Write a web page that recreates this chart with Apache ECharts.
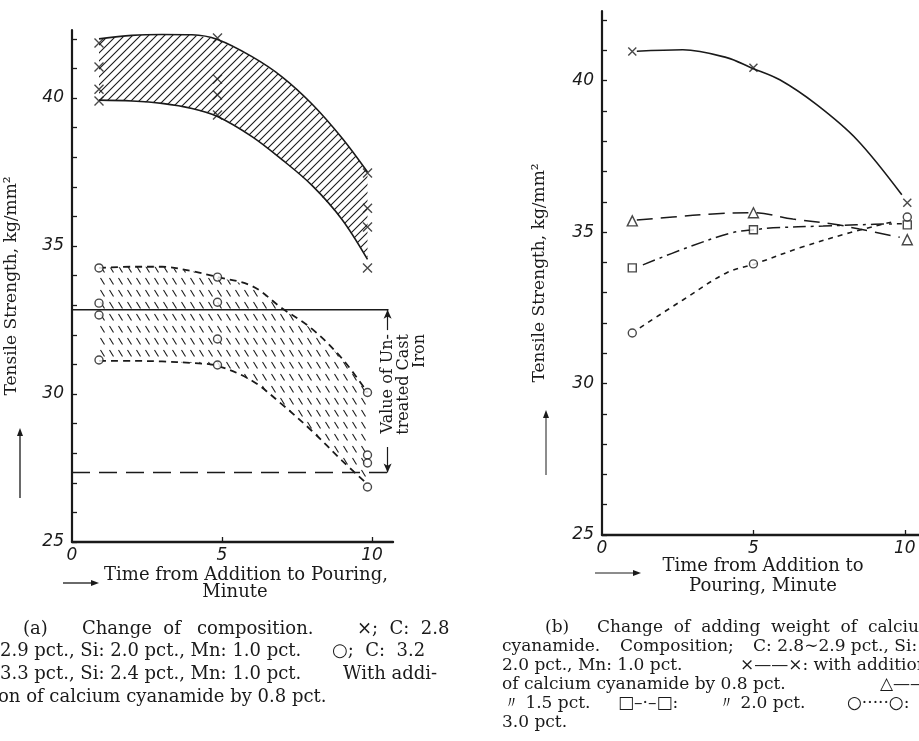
<!DOCTYPE html>
<html>
<head>
<meta charset="utf-8"/>
<title>Tensile Strength - Time from Addition to Pouring</title>
<script src="https://cdn.jsdelivr.net/npm/echarts/dist/echarts.min.js"></script>
<style>
html, body { margin: 0; padding: 0; background: #fff; }
#chart { width: 919px; height: 741px; }
</style>
</head>
<body>
<div id="chart"></div>
<script>
// ===== (a) Change of composition =====
var bandX    = [0.9, 2, 3, 4, 4.85, 6, 7, 8, 9, 9.85];
var hiTop    = [42.0, 42.12, 42.15, 42.14, 41.98, 41.4, 40.72, 39.8, 38.65, 37.5];
var hiBottom = [39.93, 39.9, 39.82, 39.65, 39.38, 38.7, 37.92, 37.05, 35.9, 34.55];
var loTop    = [34.26, 34.3, 34.3, 34.15, 33.95, 33.65, 32.9, 32.2, 31.2, 30.05];
var loBottom = [31.12, 31.12, 31.1, 31.05, 30.95, 30.45, 29.65, 28.75, 27.75, 26.95];
var timeA    = [0.9, 4.85, 9.85];
var crossA   = [[41.86, 41.05, 40.30, 39.90], [42.03, 40.64, 40.10, 39.43], [37.47, 36.28, 35.64, 34.26]];
var circleA  = [[34.26, 33.07, 32.67, 31.15], [33.95, 33.10, 31.86, 30.98], [30.05, 27.94, 27.67, 26.86]];
var refLineX = [0, 10.55];
var untreatedCross  = 32.85;   // 実線
var untreatedCircle = 27.35;   // 破線
var arrowX    = 10.52;
var arrowUp   = [32.16, 32.85];
var arrowDown = [28.21, 27.35];

// ===== (b) Change of adding weight =====
var timeB   = [1, 5, 10.08];
var crossB  = [40.96, 40.43, 35.97];
var triB    = [35.37, 35.64, 34.75];
var squareB = [33.82, 35.08, 35.24];
var circleB = [31.67, 33.95, 35.50];
// 曲線の軌跡
var crossLineX  = [1.15, 2.67, 4.12, 4.92, 5.87, 7.1, 8.42, 9.9];
var crossLine   = [40.97, 41.02, 40.76, 40.43, 40.03, 39.2, 38.05, 36.23];
var triLineX    = [1.15, 2.34, 3.66, 5.02, 6.3, 7.62, 8.5, 9.83];
var triLine     = [35.4, 35.5, 35.6, 35.64, 35.43, 35.27, 35.1, 34.83];
var squareLineX = [1.35, 2.9, 4.3, 5.05, 5.65, 7.3, 8.4, 9.9];
var squareLine  = [33.92, 34.52, 34.98, 35.08, 35.14, 35.2, 35.24, 35.28];
var circleLineX = [1.25, 2.67, 4.12, 5.05, 6.53, 8.18, 9.6];
var circleLine  = [31.84, 32.76, 33.66, 33.95, 34.48, 34.98, 35.34];

// 目盛
var yTicks  = [25, 26, 27, 28, 29, 30, 31, 32, 33, 34, 35, 36, 37, 38, 39, 40, 41, 42];
var yLabels = [25, 30, 35, 40];
var xTicks  = [5, 10];
var xLabels = [0, 5, 10];

var ink = '#1a1a1a';
var serif = '"DejaVu Serif", "Liberation Serif", serif';

var pairs = function (xs, ys) {
    return xs.map(function (x, i) { return [x, ys[i]]; });
};
var spread = function (xs, groups) {
    var out = [];
    for (var i = 0; i < xs.length; i++) {
        for (var j = 0; j < groups[i].length; j++) {
            out.push([xs[i], groups[i][j]]);
        }
    }
    return out;
};
var makeHatch = function (w, h, draw) {
    var c = document.createElement('canvas');
    c.width = w; c.height = h;
    var ctx = c.getContext('2d');
    ctx.strokeStyle = ink;
    ctx.lineWidth = 1.1;
    draw(ctx);
    return {image: c, repeat: 'repeat'};
};
var hatchSolid = makeHatch(8, 8, function (ctx) {
    ctx.beginPath();
    ctx.moveTo(0, 8); ctx.lineTo(8, 0);
    ctx.moveTo(-1, 1); ctx.lineTo(1, -1);
    ctx.moveTo(7, 9); ctx.lineTo(9, 7);
    ctx.stroke();
});
var hatchDash = makeHatch(9, 12, function (ctx) {
    ctx.beginPath();
    ctx.moveTo(1.5, 2); ctx.lineTo(5.5, 8.5);
    ctx.stroke();
});

var crossSymbol = 'path://M0,0L10,10M10,0L0,10';

var yAxisCfg = function (gridIndex, gap) {
    return {
        type: 'value', gridIndex: gridIndex, min: 25, max: 42.3,
        name: 'Tensile Strength, kg/mm²', nameLocation: 'middle', nameGap: gap,
        nameTextStyle: {fontFamily: serif, fontSize: 17, color: ink},
        axisLine: {show: true, lineStyle: {color: ink, width: 2.2}},
        axisTick: {show: true, inside: true, length: 5, customValues: yTicks, lineStyle: {color: ink, width: 1.3}},
        axisLabel: {customValues: yLabels, fontFamily: 'DejaVu Sans', fontStyle: 'italic', fontSize: 17, color: ink, margin: 8},
        splitLine: {show: false}
    };
};
var xAxisCfg = function (gridIndex, max) {
    return {
        type: 'value', gridIndex: gridIndex, min: 0, max: max,
        axisLine: {show: true, onZero: false, lineStyle: {color: ink, width: 2.4}},
        axisTick: {show: true, inside: true, length: 5, customValues: xTicks, lineStyle: {color: ink, width: 1.3}},
        axisLabel: {customValues: xLabels, fontFamily: 'DejaVu Sans', fontStyle: 'italic', fontSize: 17, color: ink, margin: 5},
        splitLine: {show: false}
    };
};
var markerStyle = function (fill) {
    return {color: fill, borderColor: ink, borderWidth: 1.4};
};
var curve = function (xi, data, dash, w) {
    return {
        type: 'line', xAxisIndex: xi, yAxisIndex: xi, data: data, z: 3,
        smooth: 0.35, symbol: 'none', silent: true,
        lineStyle: {color: ink, width: w || 1.6, type: dash || 'solid'}
    };
};
// 帯の斜線塗り (上下の曲線の間)
var bandFill = function (top, bottom, fill) {
    return {
        type: 'custom', xAxisIndex: 0, yAxisIndex: 0, silent: true, z: 1,
        data: bandX.map(function (x, i) { return [x, top[i], bottom[i]]; }),
        encode: {x: 0, y: [1, 2]},
        renderItem: function (params, api) {
            if (params.dataIndexInside !== 0) return null;
            var upper = [], lower = [];
            for (var i = 0; i < bandX.length; i++) {
                upper.push(api.coord([api.value(0, i), api.value(1, i)]));
                lower.unshift(api.coord([api.value(0, i), api.value(2, i)]));
            }
            return {type: 'polygon', shape: {points: upper.concat(lower)}, style: {fill: fill, stroke: null}};
        }
    };
};

// キャプション (語の位置)
var captionA = [
    {x: 23, y: 629, text: '(a)'}, {x: 82, y: 629, text: 'Change  of'}, {x: 197, y: 629, text: 'composition.'},
    {x: 357, y: 629, text: '×;  C:  2.8'},
    {x: 0, y: 651, text: '2.9 pct., Si: 2.0 pct., Mn: 1.0 pct.'}, {x: 332, y: 651, text: '○;  C:  3.2'},
    {x: 0, y: 674, text: '3.3 pct., Si: 2.4 pct., Mn: 1.0 pct.'}, {x: 343, y: 674, text: 'With addi-'},
    {x: -2, y: 697, text: 'on of calcium cyanamide by 0.8 pct.'}
];
var captionB = [
    {x: 545, y: 628, text: '(b)'}, {x: 597, y: 628, text: 'Change  of  adding  weight  of  calcium'},
    {x: 502, y: 647, text: 'cyanamide.'}, {x: 620, y: 647, text: 'Composition;'}, {x: 753, y: 647, text: 'C: 2.8∼2.9 pct., Si:'},
    {x: 502, y: 666, text: '2.0 pct., Mn: 1.0 pct.'}, {x: 740, y: 666, text: '×——×: with addition'},
    {x: 502, y: 685, text: 'of calcium cyanamide by 0.8 pct.'}, {x: 880, y: 685, text: '△——△:'},
    {x: 503, y: 704, text: '〃 1.5 pct.'}, {x: 618, y: 704, text: '□–·–□:'}, {x: 718, y: 704, text: '〃 2.0 pct.'},
    {x: 847, y: 704, text: '○·····○:'},
    {x: 502, y: 723, text: '3.0 pct.'}
];
var axisNames = [
    {x: 246, y: 575, text: 'Time from Addition to Pouring,'},
    {x: 235, y: 592, text: 'Minute'},
    {x: 763, y: 566, text: 'Time from Addition to'},
    {x: 763, y: 586, text: 'Pouring, Minute'}
];

var graphics = [];
captionA.forEach(function (c) {
    graphics.push({type: 'text', x: c.x, y: c.y,
        style: {text: c.text, font: '18px ' + serif, fill: ink, verticalAlign: 'middle', textVerticalAlign: 'middle'}});
});
captionB.forEach(function (c) {
    graphics.push({type: 'text', x: c.x, y: c.y,
        style: {text: c.text, font: '17px ' + serif, fill: ink, verticalAlign: 'middle', textVerticalAlign: 'middle'}});
});
axisNames.forEach(function (c) {
    graphics.push({type: 'text', x: c.x, y: c.y,
        style: {text: c.text, font: '18px ' + serif, fill: ink, align: 'center', textAlign: 'center',
            verticalAlign: 'middle', textVerticalAlign: 'middle'}});
});
// 注記 (縦書き)
graphics.push({type: 'text', x: 404, y: 334, rotation: Math.PI / 2,
    style: {text: 'Value of Un-\ntreated Cast\nIron', font: '16px ' + serif, fill: ink, lineHeight: 16,
        align: 'right', textAlign: 'right', verticalAlign: 'middle', textVerticalAlign: 'middle'}});
// 軸名の矢印
var arrow = function (x1, y1, x2, y2, w) {
    var dx = x2 - x1, dy = y2 - y1, len = Math.sqrt(dx * dx + dy * dy);
    var ux = dx / len, uy = dy / len, hl = 8, hw = 3;
    var bx = x2 - ux * hl, by = y2 - uy * hl;
    graphics.push({type: 'line', shape: {x1: x1, y1: y1, x2: bx, y2: by}, style: {stroke: ink, lineWidth: w}});
    graphics.push({type: 'polygon', shape: {points: [[x2, y2], [bx - uy * hw, by + ux * hw], [bx + uy * hw, by - ux * hw]]}, style: {fill: ink}});
};
arrow(20, 498, 20, 428, 1.3);
arrow(63, 583, 99, 583, 1.3);
arrow(546, 475, 546, 410, 1);
arrow(595, 573, 641, 573, 1);

var chart = echarts.init(document.getElementById('chart'), null, {renderer: 'canvas'});
var option = {
    backgroundColor: '#fff',
    animation: false,
    grid: [
        {left: 72, top: 30, width: 321, height: 512, containLabel: false, outerBoundsMode: 'none'},
        {left: 602, top: 11, width: 318, height: 524, containLabel: false, outerBoundsMode: 'none'}
    ],
    xAxis: [xAxisCfg(0, 10.7), xAxisCfg(1, 10.5)],
    yAxis: [yAxisCfg(0, 52), yAxisCfg(1, 54)],
    graphic: graphics,
    series: [
        // (a) 実線帯
        bandFill(hiTop, hiBottom, hatchSolid),
        curve(0, pairs(bandX, hiTop)),
        curve(0, pairs(bandX, hiBottom)),
        // (a) 破線帯
        bandFill(loTop, loBottom, hatchDash),
        curve(0, pairs(bandX, loTop), [7, 5], 1.8),
        curve(0, pairs(bandX, loBottom), [7, 5], 1.8),
        // 未処理鋳鉄の値
        {
            type: 'line', xAxisIndex: 0, yAxisIndex: 0, z: 4, symbol: 'none', silent: true,
            data: pairs(refLineX, [untreatedCross, untreatedCross]),
            lineStyle: {color: ink, width: 1.5},
            markLine: {
                silent: true, symbol: ['none', 'arrow'], symbolSize: [6, 9],
                label: {show: false},
                lineStyle: {color: ink, width: 1.2, type: 'solid'},
                data: [
                    [{coord: [arrowX, arrowUp[0]]}, {coord: [arrowX, arrowUp[1]]}],
                    [{coord: [arrowX, arrowDown[0]]}, {coord: [arrowX, arrowDown[1]]}]
                ]
            }
        },
        {
            type: 'line', xAxisIndex: 0, yAxisIndex: 0, z: 4, symbol: 'none', silent: true,
            data: pairs([refLineX[0], refLineX[1] + 0.05], [untreatedCircle, untreatedCircle]),
            lineStyle: {color: ink, width: 1.5, type: [18, 9]}
        },
        {
            type: 'scatter', xAxisIndex: 0, yAxisIndex: 0, z: 6, silent: true,
            symbol: crossSymbol, symbolSize: 9, data: spread(timeA, crossA),
            itemStyle: markerStyle('none')
        },
        {
            type: 'scatter', xAxisIndex: 0, yAxisIndex: 0, z: 6, silent: true,
            symbol: 'circle', symbolSize: 8, data: spread(timeA, circleA),
            itemStyle: markerStyle('#fff')
        },
        // (b)
        curve(1, pairs(crossLineX, crossLine), 'solid', 1.6),
        curve(1, pairs(triLineX, triLine), [16, 8], 1.5),
        curve(1, pairs(squareLineX, squareLine), [13, 5, 3, 5], 1.5),
        curve(1, pairs(circleLineX, circleLine), [5, 5], 1.6),
        {type: 'scatter', xAxisIndex: 1, yAxisIndex: 1, z: 6, silent: true, symbol: crossSymbol, symbolSize: 8,
            data: pairs(timeB, crossB), itemStyle: markerStyle('none')},
        {type: 'scatter', xAxisIndex: 1, yAxisIndex: 1, z: 6, silent: true, symbol: 'triangle', symbolSize: 10,
            data: pairs(timeB, triB), itemStyle: markerStyle('#fff')},
        {type: 'scatter', xAxisIndex: 1, yAxisIndex: 1, z: 6, silent: true, symbol: 'rect', symbolSize: 8,
            data: pairs(timeB, squareB), itemStyle: markerStyle('#fff')},
        {type: 'scatter', xAxisIndex: 1, yAxisIndex: 1, z: 6, silent: true, symbol: 'circle', symbolSize: 8,
            data: pairs(timeB, circleB), itemStyle: markerStyle('#fff')}
    ]
};
chart.setOption(option);
</script>
</body>
</html>
